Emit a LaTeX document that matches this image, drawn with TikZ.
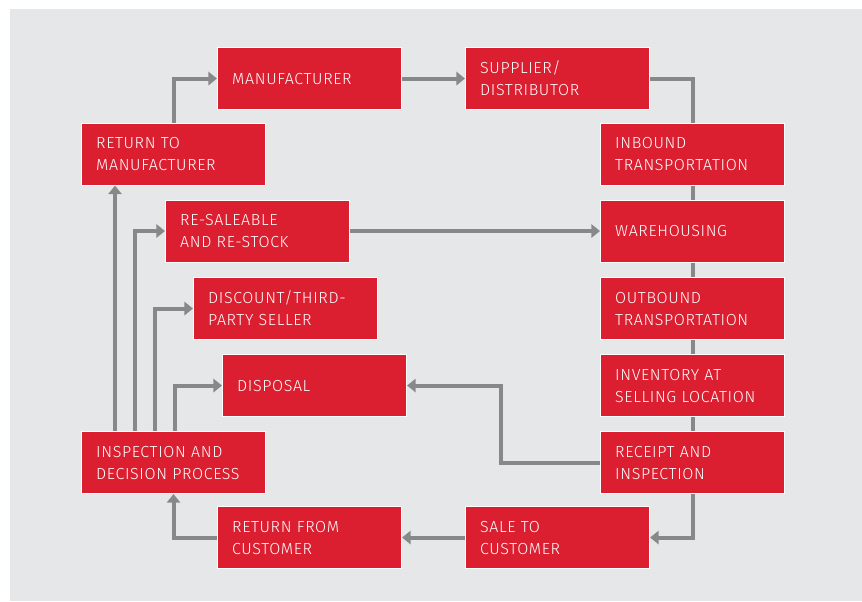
\documentclass[tikz,border=0pt]{standalone}
\usepackage{fontspec}
\setmainfont{Fira Sans}[UprightFont={* Light},LetterSpace=4]
\usetikzlibrary{arrows.meta,calc}
\definecolor{boxred}{RGB}{220,31,48}
\definecolor{bggrey}{RGB}{230,231,233}
\definecolor{linegrey}{RGB}{135,136,138}
\tikzset{%
  stage/.style={draw=white,line width=0.8pt,fill=boxred,text=white,anchor=north west,
    minimum width=138pt,minimum height=46.5pt,text width=116pt,inner xsep=11pt,
    align=left,font=\fontsize{12}{16.5}\selectfont},
  flow/.style={draw=linegrey,line width=3pt},
  flowarr/.style={flow,-{Triangle[length=6.5pt,width=10pt]}}
}

\begin{document}
\begin{tikzpicture}[x=0.75pt,y=-0.75pt]

    \useasboundingbox (0,0) rectangle (862,601);
    \fill[bggrey] (10,9) rectangle (862,601); % Background

    % Main chain
    \node[stage] (mfr) at (217,47) {MANUFACTURER};
    \node[stage] (supp) at (465,47) {SUPPLIER/\\DISTRIBUTOR};
    \node[stage] (inbound) at (600,122.5) {INBOUND\\TRANSPORTATION};
    \node[stage] (wareh) at (600,199.5) {WAREHOUSING};
    \node[stage] (outbound) at (600,277) {OUTBOUND\\TRANSPORTATION};
    \node[stage] (invent) at (600,354) {INVENTORY AT\\SELLING LOCATION};
    \node[stage] (receipt) at (600,431) {RECEIPT AND\\INSPECTION};
    \node[stage] (sale) at (465,506) {SALE TO\\CUSTOMER};
    \node[stage] (retcust) at (217,506) {RETURN FROM\\CUSTOMER};

    % Reverse side
    \node[stage] (inspect) at (81,431) {INSPECTION AND\\DECISION PROCESS};
    \node[stage] (retmfr) at (81,122.5) {RETURN TO\\MANUFACTURER};
    \node[stage] (resale) at (165,199.5) {RE-SALEABLE\\AND RE-STOCK};
    \node[stage] (discount) at (193,277) {DISCOUNT/THIRD-\\PARTY SELLER};
    \node[stage] (disposal) at (222,354) {DISPOSAL};

    % Forward connectors
    \draw[flowarr] (retmfr.north) |- (mfr.west);
    \draw[flowarr] (mfr.east) -- (supp.west);
    \draw[flow] (supp.east) -| (inbound.north);
    \foreach \a/\b in {inbound/wareh,wareh/outbound,outbound/invent,invent/receipt}
        {
        \draw[flow] (\a.south) -- (\b.north);
        }
    \draw[flowarr] (receipt.south) |- (sale.east);
    \draw[flowarr] (sale.west) -- (retcust.east);
    \draw[flowarr] (retcust.west) -| (inspect.south);
    \draw[flowarr] (receipt.west) -- ++(-99,0) |- (disposal.east);
    \draw[flowarr] (resale.east) -- (wareh.west);

    %%%%Branches out of the decision box
    \draw[flowarr] ($(inspect.north west)+(34,0)$) -- ($(retmfr.south west)+(34,0)$);
    \foreach \dx/\tgt in {54/resale,74/discount,93.5/disposal}
        {
        \draw[flowarr] ($(inspect.north west)+(\dx,0)$) |- (\tgt.west);
        }

\end{tikzpicture}
\end{document}
